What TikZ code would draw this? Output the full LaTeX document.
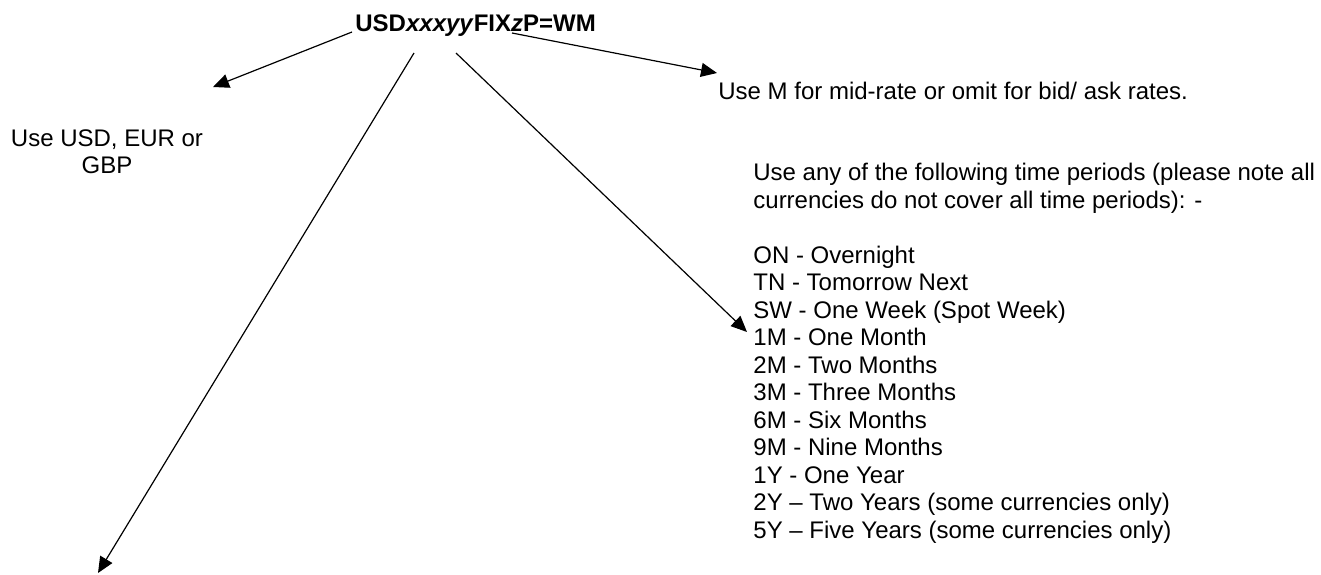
\documentclass[tikz,border=0pt]{standalone}
\usepackage{fontspec}
\setmainfont{Liberation Sans}
\usetikzlibrary{positioning,arrows.meta}

\begin{document}
\begin{tikzpicture}[
		x=0.5pt,y=-0.5pt,
		every node/.style={inner sep=0pt,font=\fontsize{12pt}{13.75pt}\selectfont},
		codenode/.style={anchor=base west,font=\fontsize{12pt}{13.75pt}\selectfont\bfseries},
		note/.style={align=left},
		ptr/.style={-{Triangle[length=8pt,width=7pt]},line width=0.6pt}
		]
		\useasboundingbox (0,0) rectangle (1321,574);
		\node[codenode] (code) at (355,31) {USD\textit{xxxyy}FIX\textit{z}P=WM};
		\node[anchor=north,align=center] (ccynote) at (107,129) {Use USD, EUR or\\GBP};
		\node[anchor=base west] (ratenote) at (718,99) {Use M for mid-rate or omit for bid/ ask rates.};
		\node[note,anchor=north west] (tenornote) at (753,163)
		{
			Use any of the following time periods (please note all\\
			currencies do not cover all time periods): -\\[13.75pt]
			ON - Overnight\\
			TN - Tomorrow Next\\
			SW - One Week (Spot Week)\\
			1M - One Month\\
			2M - Two Months\\
			3M - Three Months\\
			6M - Six Months\\
			9M - Nine Months\\
			1Y - One Year\\
			2Y -- Two Years (some currencies only)\\
			5Y -- Five Years (some currencies only)
		};
		% ends of the pointers
		\coordinate (ccytail) at (352,32);
		\coordinate (daytail) at (414,53);
		\coordinate (tenortail) at (456,53);
		\coordinate (ratetail) at (512,33);
		\coordinate (ccytip) at (213,87);
		\coordinate (daytip) at (98,573);
		\coordinate (tenortip) at (747,332);
		\coordinate (ratetip) at (717,73);
		\draw[ptr] (ccytail) -- (ccytip);
		\draw[ptr] (daytail) -- (daytip);
		\draw[ptr] (tenortail) -- (tenortip);
		\draw[ptr] (ratetail) -- (ratetip);
	\end{tikzpicture}
\end{document}
